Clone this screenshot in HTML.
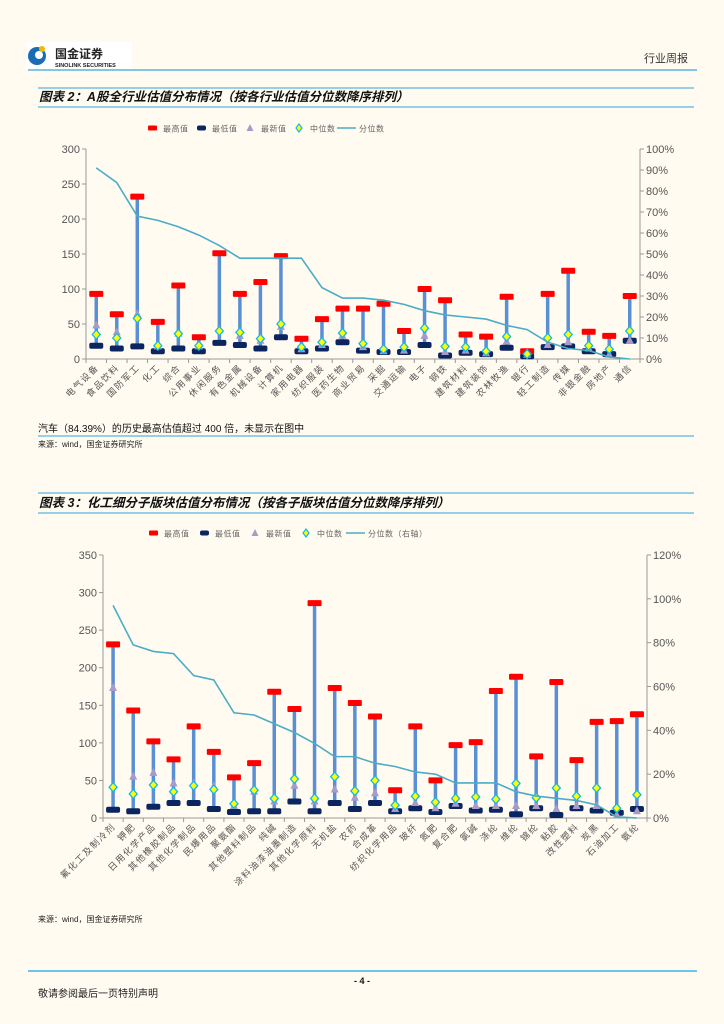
<!DOCTYPE html>
<html><head><meta charset="utf-8">
<style>
html,body{margin:0;padding:0;background:#fffbf0;}
svg{display:block;font-family:"Liberation Sans","Noto Sans CJK SC",sans-serif;}
</style></head>
<body>
<svg id="page" width="724" height="1024" viewBox="0 0 724 1024">
<rect width="724" height="1024" fill="#fffbf0"/>
<g>
<rect x="26" y="42" width="106" height="28" fill="#fff"/>
<circle cx="37" cy="56" r="9" fill="#1a6db5"/>
<circle cx="39" cy="55" r="4" fill="#fff"/>
<circle cx="42" cy="49" r="3" fill="#f5b800"/>
<text x="55" y="58" font-size="12" font-weight="bold" fill="#222">国金证券</text>
<text x="55" y="67" font-size="5.5" font-weight="bold" fill="#222">SINOLINK SECURITIES</text>
</g>
<text x="688" y="62" font-size="11" fill="#333" text-anchor="end">行业周报</text>
<line x1="28" y1="70" x2="697" y2="70" stroke="#5ab4e0" stroke-width="1.5"/>

<line x1="38" y1="88" x2="694" y2="88" stroke="#5ab4e0" stroke-width="1.2"/>
<line x1="38" y1="107" x2="694" y2="107" stroke="#5ab4e0" stroke-width="1.2"/>
<text x="39" y="101" font-size="12.5" font-weight="bold" font-style="italic" fill="#111">图表 2：A股全行业估值分布情况（按各行业估值分位数降序排列）</text>

<text x="38" y="432" font-size="10" fill="#111">汽车（84.39%）的历史最高估值超过 400 倍，未显示在图中</text>
<line x1="38" y1="436" x2="694" y2="436" stroke="#5ab4e0" stroke-width="1.2"/>
<text x="38" y="447" font-size="8" fill="#222">来源：wind，国金证券研究所</text>

<line x1="38" y1="493" x2="694" y2="493" stroke="#5ab4e0" stroke-width="1.2"/>
<line x1="38" y1="513" x2="694" y2="513" stroke="#5ab4e0" stroke-width="1.2"/>
<text x="39" y="507" font-size="12.5" font-weight="bold" font-style="italic" fill="#111">图表 3：化工细分子版块估值分布情况（按各子版块估值分位数降序排列）</text>

<text x="38" y="922" font-size="8" fill="#222">来源：wind，国金证券研究所</text>
<line x1="28" y1="971" x2="697" y2="971" stroke="#6cc6ec" stroke-width="2"/>
<text x="362" y="984" font-size="9" font-weight="bold" fill="#111" text-anchor="middle">- 4 -</text>
<text x="38" y="997" font-size="10" fill="#222">敬请参阅最后一页特别声明</text>
<g id="c1"></g>
<g id="c2"></g>
</svg>
<script>
const c1Cats=["电气设备","食品饮料","国防军工","化工","综合","公用事业","休闲服务","有色金属","机械设备","计算机","家用电器","纺织服装","医药生物","商业贸易","采掘","交通运输","电子","钢铁","建筑材料","建筑装饰","农林牧渔","银行","轻工制造","传媒","非银金融","房地产","通信"];
const c1Max=[93,64,232,53,105,31,151,93,110,147,29,57,72,72,79,40,100,84,35,32,89,11,93,126,39,33,90];
const c1Min=[19,15,18,11,15,11,23,20,15,31,11,15,24,12,10,10,20,5,9,7,16,4,17,18,11,7,26];
const c1Latest=[48,38,64,18,36,18,42,33,26,46,14,20,33,17,11,12,33,10,12,8,25,6,20,24,15,6,26];
const c1Median=[35,30,58,19,36,19,40,38,29,50,17,24,37,22,14,17,44,18,17,11,32,7,30,35,19,14,40];
const c1Pct=[91,84,68,66,63,59,54,48,48,48,48,34,29,29,28,26,23,21,20,19,16,14,8,5,4,1,0];
const c1LeftTicks=[0,50,100,150,200,250,300];
const c1RightTicks=[0,10,20,30,40,50,60,70,80,90,100];

const c2Cats=["氟化工及制冷剂","钾肥","日用化学产品","其他橡胶制品","其他化学制品","民爆用品","聚氨酯","其他塑料制品","纯碱","涂料油漆油墨制造","其他化学原料","无机盐","农药","合成革","纺织化学用品","玻纤","氮肥","复合肥","氯碱","涤纶","维纶","锦纶","粘胶","改性塑料","炭黑","石油加工","氨纶"];
const c2Max=[231,143,102,78,122,88,54,73,168,145,286,173,153,135,37,122,50,97,101,169,188,82,181,77,128,129,138];
const c2Min=[11,9,15,20,20,12,8,9,9,22,9,20,12,20,9,13,8,16,10,11,5,13,4,13,10,7,12];
const c2Latest=[173,55,60,46,46,42,16,35,22,43,22,38,27,33,12,20,13,19,16,16,16,16,12,16,16,4,9];
const c2Median=[41,32,44,35,43,38,19,37,26,52,26,55,36,50,17,29,21,26,28,25,46,27,40,29,40,13,31];
const c2Pct=[97,79,76,75,65,63,48,47,43,39,34,28,28,25,23.5,21,20,16,16,16,12,10,9,8,6,0.5,0];
const c2LeftTicks=[0,50,100,150,200,250,300,350];
const c2RightTicks=[0,20,40,60,80,100,120];

const NS="http://www.w3.org/2000/svg";
function mk(parent,tag,attrs,txt){const e=document.createElementNS(NS,tag);for(const k in attrs)e.setAttribute(k,attrs[k]);if(txt!==undefined)e.textContent=txt;parent.appendChild(e);return e;}

function drawChart(g,geo,cats,mx,mn,lt,md,pc,lt1,rt1,legendTexts){
  const n=cats.length, band=(geo.x1-geo.x0)/n;
  const xs=i=>geo.x0+band*(i+0.5);
  const ys=v=>geo.y0-(v/geo.lmax)*(geo.y0-geo.ytop);
  const yp=v=>geo.y0-(v/geo.rmax)*(geo.y0-geo.ytop);
  const ax="#999";
  let e=mk(g,'line',{x1:geo.x0,y1:geo.ytop,x2:geo.x0,y2:geo.y0,stroke:ax,'stroke-width':1});
  
  e=mk(g,'line',{x1:geo.x1,y1:geo.ytop,x2:geo.x1,y2:geo.y0,stroke:ax,'stroke-width':1});
  
  e=mk(g,'line',{x1:geo.x0,y1:geo.y0,x2:geo.x1,y2:geo.y0,stroke:ax,'stroke-width':1});
  
  lt1.forEach(v=>{
    mk(g,'line',{x1:geo.x0-4,y1:ys(v),x2:geo.x0,y2:ys(v),stroke:ax});
    e=mk(g,'text',{x:geo.x0-6,y:ys(v)+4,'font-size':11,fill:'#555','text-anchor':'end'},String(v));
    
  });
  rt1.forEach(v=>{
    mk(g,'line',{x1:geo.x1,y1:yp(v),x2:geo.x1+4,y2:yp(v),stroke:ax});
    e=mk(g,'text',{x:geo.x1+6,y:yp(v)+4,'font-size':11,fill:'#555'},v+'%');
    
  });
  for(let i=0;i<=n;i++){mk(g,'line',{x1:geo.x0+band*i,y1:geo.y0,x2:geo.x0+band*i,y2:geo.y0+4,stroke:ax});}
  cats.forEach((c,i)=>{
    const x=xs(i)+3,y=geo.y0+9;
    e=mk(g,'text',{x:x,y:y,'font-size':9,fill:'#555','text-anchor':'end','letter-spacing':'1.5',transform:`rotate(-45 ${x} ${y})`},c);
    
  });
  cats.forEach((c,i)=>{
    const x=xs(i);
    e=mk(g,'line',{x1:x,y1:ys(mx[i]),x2:x,y2:ys(mn[i]),stroke:'#5b8fd4','stroke-width':3.5});
    
    e=mk(g,'rect',{x:x-7,y:ys(mn[i])-3,width:14,height:6,rx:2,fill:'#0b2560'});
    
    e=mk(g,'rect',{x:x-7,y:ys(mx[i])-3,width:14,height:6,rx:1,fill:'#ff0000'});
    
    const ly=ys(lt[i]);
    e=mk(g,'polygon',{points:`${x-4},${ly+3} ${x+4},${ly+3} ${x},${ly-5}`,fill:'#a99bc8'});
    
    const my=ys(md[i]);
    e=mk(g,'polygon',{points:`${x},${my-4.5} ${x+4},${my} ${x},${my+4.5} ${x-4},${my}`,fill:'#ffff00',stroke:'#12b8e8','stroke-width':1.3});
    
  });
  e=mk(g,'polyline',{points:pc.map((v,i)=>xs(i)+','+yp(v)).join(' '),fill:'none',stroke:'#4bacc6','stroke-width':1.6});
  
  let lx=geo.legX,ly=geo.legY;
  const ts={'font-size':8,fill:'#666','letter-spacing':'0.5'};
  e=mk(g,'rect',{x:lx-4,y:ly-2.5,width:9,height:5,rx:1,fill:'#ff0000'});
  mk(g,'text',Object.assign({x:lx+11,y:ly+3.5},ts),legendTexts[0]);
  lx+=geo.legStep;
  e=mk(g,'rect',{x:lx-4,y:ly-2.5,width:9,height:5,rx:2,fill:'#0b2560'});
  mk(g,'text',Object.assign({x:lx+11,y:ly+3.5},ts),legendTexts[1]);
  lx+=geo.legStep;
  e=mk(g,'polygon',{points:`${lx-3.5},${ly+3} ${lx+3.5},${ly+3} ${lx},${ly-4}`,fill:'#a99bc8'});
  mk(g,'text',Object.assign({x:lx+11,y:ly+3.5},ts),legendTexts[2]);
  lx+=geo.legStep;
  e=mk(g,'polygon',{points:`${lx},${ly-4} ${lx+3},${ly} ${lx},${ly+4} ${lx-3},${ly}`,fill:'#ffff00',stroke:'#12b8e8','stroke-width':1.2});
  mk(g,'text',Object.assign({x:lx+11,y:ly+3.5},ts),legendTexts[3]);
  lx+=geo.legStep;
  e=mk(g,'line',{x1:lx-11,y1:ly,x2:lx+8,y2:ly,stroke:'#4bacc6','stroke-width':1.6});
  mk(g,'text',Object.assign({x:lx+11,y:ly+3.5},ts),legendTexts[4]);
}
drawChart(document.getElementById('c1'),{x0:86,x1:640,y0:359,ytop:149,lmax:300,rmax:100,legX:152,legY:128,legStep:49},
  c1Cats,c1Max,c1Min,c1Latest,c1Median,c1Pct,c1LeftTicks,c1RightTicks,["最高值","最低值","最新值","中位数","分位数"]);
drawChart(document.getElementById('c2'),{x0:103,x1:647,y0:818,ytop:555,lmax:350,rmax:120,legX:153,legY:533,legStep:51},
  c2Cats,c2Max,c2Min,c2Latest,c2Median,c2Pct,c2LeftTicks,c2RightTicks,["最高值","最低值","最新值","中位数","分位数（右轴）"]);
</script>
</body></html>
